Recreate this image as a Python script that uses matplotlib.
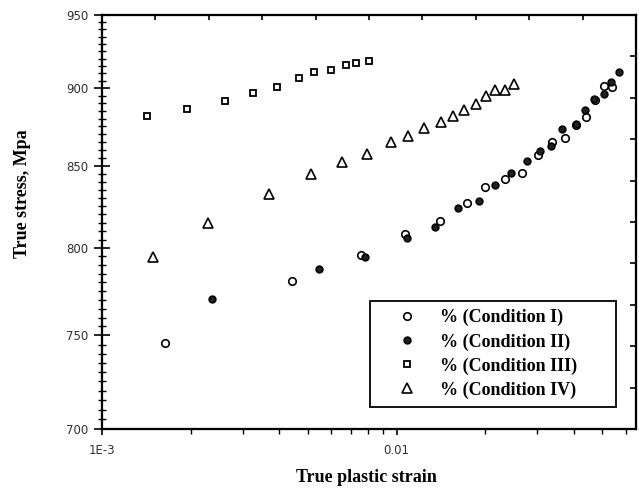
import numpy as np
import matplotlib
matplotlib.use("Agg")
import matplotlib.pyplot as plt
from matplotlib.ticker import FixedLocator, FixedFormatter, NullFormatter

# ---- data ----
cond1_strain = [0.001635, 0.004417, 0.007592, 0.010668, 0.014059, 0.017311, 0.019985,
                0.023418, 0.026676, 0.030130, 0.033798, 0.037260, 0.040800, 0.043965,
                0.047000, 0.050443, 0.054086]
cond1_stress = [745.7, 780.5, 795.7, 808.1, 816.3, 826.8, 837.1,
                841.8, 845.4, 856.8, 864.9, 867.3, 876.0, 881.4,
                892.5, 901.7, 901.1]

cond2_strain = [0.002360, 0.005440, 0.007790, 0.010870, 0.013556, 0.016131, 0.019011,
                0.021612, 0.024437, 0.027633, 0.030696, 0.033455, 0.036334, 0.040663,
                0.043722, 0.046903, 0.050724, 0.053430, 0.057003]
cond2_stress = [770.3, 787.4, 794.4, 806.1, 812.7, 823.8, 828.2,
                838.1, 845.7, 852.9, 859.4, 862.6, 873.5, 876.5,
                885.7, 892.8, 896.1, 904.4, 910.8]

cond3_strain = [0.001424, 0.001941, 0.002611, 0.003249, 0.003928, 0.004665,
                0.005245, 0.006007, 0.006716, 0.007262, 0.008056]
cond3_stress = [881.6, 886.1, 891.6, 896.6, 900.6, 906.6,
                910.6, 912.0, 915.6, 916.7, 918.1]

cond4_strain = [0.001492, 0.002282, 0.003692, 0.005138, 0.006545, 0.007955, 0.009566,
                0.010956, 0.012415, 0.014170, 0.015568, 0.016964, 0.018669, 0.020189,
                0.021662, 0.023327, 0.024975]
cond4_stress = [794.4, 815.0, 832.5, 844.9, 852.4, 857.3, 864.9,
                869.2, 873.9, 877.6, 881.6, 885.7, 889.8, 894.7,
                898.9, 898.9, 902.7]

labels = ["% (Condition I)", "% (Condition II)", "% (Condition III)", "% (Condition IV)"]
y_ticks = [700, 750, 800, 850, 900, 950]
x_ticks = [1e-3, 1e-2]
x_ticklabels = ["1E-3", "0.01"]

# ---- figure ----
W, H, DPI = 639, 488, 100
fig = plt.figure(figsize=(W / DPI, H / DPI), dpi=DPI)
L, R, T, B = 102, 636, 15, 429
ax = fig.add_axes([L / W, 1 - B / H, (R - L) / W, (B - T) / H])

serif = "Liberation Serif"

ax.plot(cond1_strain, cond1_stress, linestyle="none", marker="o", markersize=5.4,
        markerfacecolor="white", markeredgecolor="black", markeredgewidth=1.2, label=labels[0])
ax.plot(cond2_strain, cond2_stress, linestyle="none", marker="o", markersize=4.8,
        markerfacecolor="#202020", markeredgecolor="black", markeredgewidth=1.2, label=labels[1])
ax.plot(cond3_strain, cond3_stress, linestyle="none", marker="s", markersize=5.0,
        markerfacecolor="white", markeredgecolor="black", markeredgewidth=1.3, label=labels[2])
ax.plot(cond4_strain, cond4_stress, linestyle="none", marker="^", markersize=6.5,
        markerfacecolor="white", markeredgecolor="black", markeredgewidth=1.2, label=labels[3])

ax.set_xscale("log")
ax.set_yscale("log")
ax.set_xlim(1e-3, 0.065)
ax.set_ylim(700, 950)

# y ticks
ax.yaxis.set_major_locator(FixedLocator(y_ticks))
ax.yaxis.set_major_formatter(FixedFormatter([str(v) for v in y_ticks]))
ax.yaxis.set_minor_locator(FixedLocator([v for v in range(705, 950, 5) if v % 50]))
ax.yaxis.set_minor_formatter(NullFormatter())
# x ticks
ax.xaxis.set_major_locator(FixedLocator(x_ticks))
ax.xaxis.set_major_formatter(FixedFormatter(x_ticklabels))
minors = [k * 1e-3 for k in range(2, 10)] + [k * 1e-2 for k in range(2, 7)]
ax.xaxis.set_minor_locator(FixedLocator(minors))
ax.xaxis.set_minor_formatter(NullFormatter())

tick_col = "#303030"
ax.tick_params(axis="y", which="major", direction="inout", length=12, width=1.2,
               labelsize=8.5, labelcolor=tick_col, pad=4)
ax.tick_params(axis="y", which="minor", direction="inout", length=5.5, width=1.0)
ax.tick_params(axis="x", which="major", direction="out", length=4.5, width=1.2,
               labelsize=8.5, labelcolor=tick_col, pad=6)
ax.tick_params(axis="x", which="minor", direction="out", length=3.5, width=1.0)
ax.tick_params(top=False, right=False, which="both")
for lab in ax.get_xticklabels() + ax.get_yticklabels():
    lab.set_family("DejaVu Sans")

# top and right axes with evenly spaced inward ticks
ax_top = ax.twiny()
ax_top.set_xlim(0, 1)
ax_top.set_xticks(np.arange(1, 10) / 10)
ax_top.tick_params(axis="x", direction="in", length=3.5, width=1.2, labeltop=False)
ax_right = ax.twinx()
ax_right.set_ylim(0, 1)
ax_right.set_yticks(np.arange(1, 10) / 10)
ax_right.tick_params(axis="y", direction="in", length=4.5, width=1.2, labelright=False)

for a in (ax, ax_top, ax_right):
    for s in a.spines.values():
        s.set_linewidth(1.5)
        s.set_color("black")

# axis labels
ax.set_xlabel("True plastic strain", fontfamily=serif, fontweight="bold", fontsize=13, va="center")
ax.xaxis.set_label_coords((366 - L) / (R - L), (B - 477) / (B - T))
ax.set_ylabel("True stress, Mpa", fontfamily=serif, fontweight="bold", fontsize=13, va="center")
ax.yaxis.set_label_coords((23 - L) / (R - L), (B - 194) / (B - T))

# legend
x0 = (370 - L) / (R - L)
x1 = (616 - L) / (R - L)
y0 = (B - 407) / (B - T)
y1 = (B - 290) / (B - T)
leg = ax.legend(loc="lower left", bbox_to_anchor=(x0, y0, x1 - x0, y1 - y0), mode="expand",
                prop={"family": serif, "size": 13, "weight": "bold"}, frameon=True, fancybox=False,
                edgecolor="black", framealpha=1, handlelength=3.2, handletextpad=0.2,
                borderpad=0.45, labelspacing=0.38, borderaxespad=0)
leg.get_frame().set_linewidth(1.3)
leg.set_zorder(5)

fig.savefig("out.png", dpi=DPI)
